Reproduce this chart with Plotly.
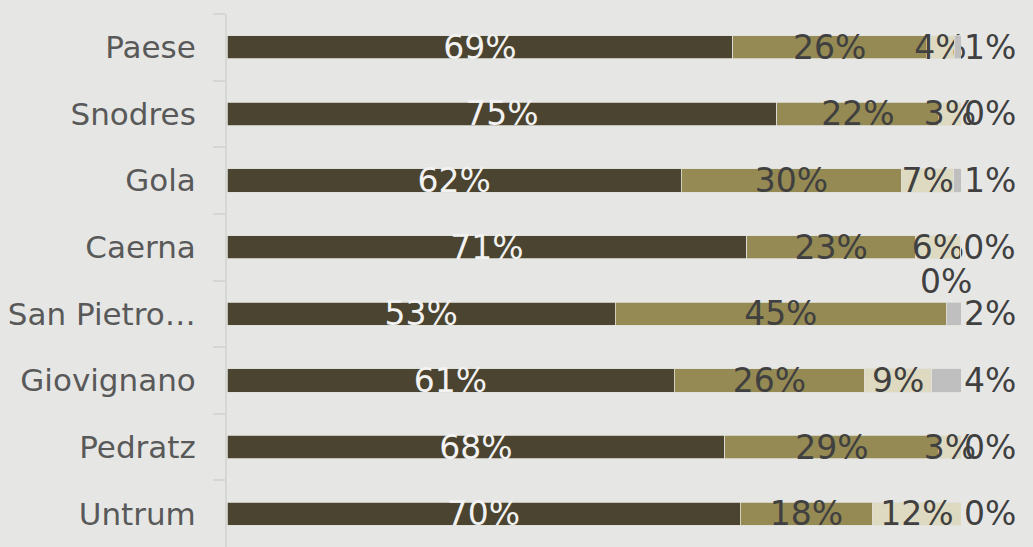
import plotly.graph_objects as go

categories = ["Paese", "Snodres", "Gola", "Caerna", "San Pietro…", "Giovignano", "Pedratz", "Untrum"]
s1 = [0.689, 0.749, 0.619, 0.708, 0.529, 0.609, 0.678, 0.699]
s2 = [0.264, 0.221, 0.300, 0.230, 0.451, 0.260, 0.292, 0.181]
s3 = [0.038, 0.030, 0.071, 0.061, 0.000, 0.091, 0.030, 0.120]
s4 = [0.009, 0.000, 0.010, 0.000, 0.020, 0.040, 0.000, 0.000]

series = [s1, s2, s3, s4]
colors = ["#4A4430", "#958A53", "#DEDAC2", "#BFBFBF"]
text_colors = ["#F2F2F2", "#404040", "#404040", "#404040"]
FONT = "DejaVu Sans"
LABEL_SIZE = 33

fig = go.Figure()
for i, (vals, col, tc) in enumerate(zip(series, colors, text_colors)):
    last = i == len(series) - 1
    fig.add_trace(go.Bar(
        y=categories, x=vals, orientation="h",
        marker=dict(color=col, line=dict(color="#E0E0DA", width=0.8)),
        texttemplate="%{x:.0%}",
        textposition="outside" if last else "inside",
        insidetextanchor="middle",
        constraintext="none",
        textangle=0,
        cliponaxis=False,
        textfont=dict(family=FONT, size=LABEL_SIZE, color=tc),
        hoverinfo="skip",
    ))

# labels for zero-width middle segments (drawn above the bar)
for j, cat in enumerate(categories):
    for i in range(len(series) - 1):
        if round(series[i][j] * 100) == 0:
            cum = sum(series[k][j] for k in range(i))
            fig.add_annotation(x=cum, y=cat, text=f"{series[i][j]:.0%}", showarrow=False,
                               yshift=32, font=dict(family=FONT, size=LABEL_SIZE, color="#404040"))

fig.update_layout(
    width=1033, height=547,
    barmode="stack", bargap=0.65,
    showlegend=False,
    paper_bgcolor="#E6E7E5", plot_bgcolor="#E6E7E5",
    margin=dict(l=227, r=72, t=14, b=0),
    font=dict(family=FONT),
)
fig.update_xaxes(range=[0, 1], visible=False)
fig.update_yaxes(
    autorange="reversed",
    showline=True, linecolor="#D6D6D4", linewidth=2,
    ticks="outside", tickson="boundaries", ticklen=12, tickcolor="#D6D6D4", tickwidth=2,
    ticklabelstandoff=23,
    tickfont=dict(family=FONT, size=31, color="#595959"),
    showgrid=False, zeroline=False,
)
fig.write_html("out.html", config={"displayModeBar": False},
               post_script="document.body.style.margin='0';document.body.style.background='#E6E7E5';")
